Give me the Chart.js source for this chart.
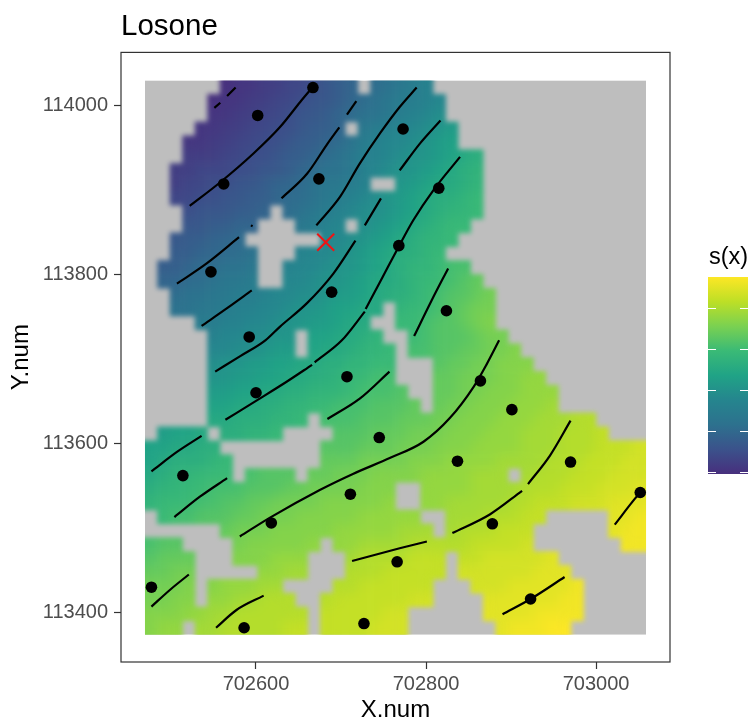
<!DOCTYPE html>
<html>
<head>
<meta charset="utf-8">
<style>
  html, body { margin: 0; padding: 0; background: #fff; }
  canvas { display: block; }
</style>
<script src="https://cdn.jsdelivr.net/npm/chart.js@4/dist/chart.umd.min.js"></script>
</head>
<body>
<canvas id="chart" width="750" height="720"></canvas>
<script>
// s(x) surface: one string per grid row, top to bottom.
// '.' = no prediction (grey), 0-9a-z = level in base 36
var cellRows = [
  "......12233445678.9abcd.................",
  ".....1223344566789abccde................",
  ".....223344566789aabcdef................",
  "....223344556778.bcdeefgh...............",
  "...2233445567789acdeefghi...............",
  "...333445567789abddefgghijk.............",
  "..334445566789aabdefgghijkl.............",
  "..34455667889abbcd..ghijjkl.............",
  "..44556677899abcdefghijkklm.............",
  "...5666778.9abcdeffghijkllm.............",
  "...667788...bcde.fghijklmm..............",
  "..677889......eefghijkllm...............",
  "..778899a...deefghijkklm................",
  ".77899aab..deefgghijkllmnn..............",
  ".8899abbc..eefgghijjklmmnop.............",
  "..9aabbccdeeffghhijkklmnoopq............",
  "..aabbcddeefgghiijj.lmmnopqq............",
  "....ccddeefgghhijj..mmnoopqr............",
  ".....deeffgg.iijjkl..mnooopqq...........",
  ".....eeffghh.ijjkllm.nnooppqqr..........",
  ".....fgghhiijjkkllmm...oppqqrrr.........",
  ".....gghhiijjkklmmnn...ppqqqrrss........",
  ".....hhiijjkklllmnnno..ppqqrrrsss.......",
  ".....iijjkkllmmnnnooop.pqqrrrssst.......",
  ".....jjkkkllm.nnnooopppqqrrrsssttt" + "uu....",
  ".hiij.kkllm....ooopppqqqrrrsssttt" + "uuuv...",
  "iijjkk........ooopppqqqrrrssssttt" + "uuuvvvw",
  "ijkkklm.......pppqqqqrrrssssttttuuuvvvww",
  "jkllmmm.nooo.ppqqqrrrrssssttt.tuuuvvvwww",
  "kllmmnnnoooppqqqqrrr..ssssttttuuuvvvwwwx",
  "lmmmnnooppqqqqrrrrrs..sstttttuuvvvwwwxxx",
  ".mnnoooppqqqrrrrrsssss..tttuuuvv.....xxy",
  "......pqqqrrrrrsssssttt.tuuuvvv......xyy",
  "noo....qrrrrrs.ssttttuuuuuvvvvw.......yy",
  "oppp...rrrsss...tuuuuvvv.vvwwwwwx.......",
  "ppqq.....sstt...uuuvvvvv.wwwwwwxxx......",
  "qqqr.rssstt....uuvvvvvv...wwwxxxxxy.....",
  "qqrr.ssttuuu..uvvvvvvww....xxxxxxyy.....",
  "rrrssttuuuuuu.vvvvvww......xxxxyyyy.....",
  "rss.ttuuuuuvv.vvvvwww.......xyyyzz......"
]
var cellX0 = 702469.4, cellDX = 14.736
var cellY0 = 114029.5, cellDY = 16.394

// sample locations
var siteX = [702667, 702602, 702562, 702674, 702547, 702592, 702689, 702768, 702773, 702815, 702824, 702864, 702901, 702837,
             702970, 702878, 702766, 703052, 702923, 702727, 702586, 702477, 702514, 702618, 702711, 702745, 702707, 702600]
var siteY = [114021, 113988, 113907, 113913, 113803, 113726, 113779, 113834, 113972, 113902, 113757, 113674, 113640, 113579,
             113578, 113505, 113460, 113542, 113416, 113387, 113382, 113430, 113562, 113506, 113540, 113607, 113679, 113660]

var crossX = [702682]
var crossY = [113838]

// contour pieces, [x, y]
var contourLines = [
  [[702551,113997],[702558,114003]],
  [[702566,114011],[702576,114021]],
  [[702522,113881],[702558,113909],[702597,113943],[702628,113974],[702652,114004],[702667,114022]],
  [[702630,113890],[702660,113919],[702683,113953],[702698,113974]],
  [[702707,113989],[702718,114005]],
  [[702671,113858],[702699,113892],[702722,113931],[702746,113967],[702769,113998],[702789,114021]],
  [[702507,113789],[702542,113813],[702580,113844]],
  [[702594,113858],[702596,113857]],
  [[702536,113739],[702566,113760],[702595,113781]],
  [[702552,113685],[702581,113703],[702611,113722],[702628,113738],[702660,113766],[702691,113801],[702717,113840]],
  [[702728,113858],[702747,113890]],
  [[702769,113923],[702793,113955],[702817,113982]],
  [[702564,113628],[702601,113651],[702636,113673],[702666,113693]],
  [[702669,113696],[702701,113722],[702728,113756]],
  [[702729,113759],[702749,113797],[702768,113833],[702785,113864],[702809,113900],[702840,113939]],
  [[702684,113629],[702722,113653],[702757,113685]],
  [[702786,113727],[702807,113770],[702826,113807]],
  [[702581,113490],[702616,113512],[702675,113545],[702714,113564],[702758,113583],[702797,113602],[702828,113630],[702856,113667],[702871,113693],[702886,113722]],
  [[702713,113461],[702769,113476],[702801,113484]],
  [[702831,113494],[702875,113516],[702913,113544]],
  [[702920,113552],[702946,113586],[702970,113627]],
  [[703022,113504],[703046,113535],[703052,113542]],
  [[702890,113398],[702923,113416],[702963,113442]],
  [[702477,113567],[702507,113590],[702536,113609]],
  [[702504,113513],[702534,113537],[702566,113559]],
  [[702477,113407],[702499,113427],[702521,113445]],
  [[702553,113382],[702577,113403],[702609,113420]]
]

var xTickValues = [702600, 702800, 703000]
var yTickValues = [113400, 113600, 113800, 114000]

var colorStops = ['#472f7d', '#3b528b', '#2d718e', '#25858e', '#20a386', '#3aba76', '#7ad151', '#bddf26', '#fde725']
var levelMin = 1.15, levelMax = 34.75
var legendTickLevels = [1.5, 8.5, 15.5, 22.5, 29.5]
var naColor = '#bebebe'

function hexToRgb(h){
  return [parseInt(h.slice(1,3),16), parseInt(h.slice(3,5),16), parseInt(h.slice(5,7),16)]
}

function levelColor(v){
  var t = Math.min(1, Math.max(0, (v - levelMin) / (levelMax - levelMin))) * (colorStops.length - 1)
  var i = Math.min(colorStops.length - 2, Math.floor(t))
  var a = hexToRgb(colorStops[i]), b = hexToRgb(colorStops[i+1]), f = t - i
  return 'rgb(' + Math.round(a[0]+(b[0]-a[0])*f) + ',' + Math.round(a[1]+(b[1]-a[1])*f) + ',' + Math.round(a[2]+(b[2]-a[2])*f) + ')'
}

var cellPoints = []
cellRows.forEach(function(row, r){
  for (var c = 0; c < row.length; c++){
    cellPoints.push({
      x: cellX0 + cellDX * (c + 0.5),
      y: cellY0 - cellDY * (r + 0.5),
      v: row[c] === '.' ? null : parseInt(row[c], 36),
      r: r, c: c
    })
  }
})

// cells are painted off screen at the element positions, the outline gets a small
// blur and the colours inside a wider one so the steps between levels melt away
var rasterLayer = {
  id: 'rasterLayer',
  beforeDatasetDraw: function(chart, args){
    if (args.index !== 0) return
    var sx = chart.scales.x, sy = chart.scales.y
    var w = Math.abs(sx.getPixelForValue(cellX0 + cellDX) - sx.getPixelForValue(cellX0))
    var h = Math.abs(sy.getPixelForValue(cellY0 - cellDY) - sy.getPixelForValue(cellY0))
    var flat = document.createElement('canvas')
    flat.width = chart.width
    flat.height = chart.height
    var o = flat.getContext('2d')
    args.meta.data.forEach(function(el, i){
      var p = cellPoints[i]
      if (p.v === null) return
      // cells on the rim run past the clip so they keep a hard edge
      var x0 = el.x - w/2 - 0.3 - (p.c === 0 ? 10 : 0)
      var x1 = el.x + w/2 + 0.3 + (p.c === 39 ? 10 : 0)
      var y0 = el.y - h/2 - 0.3 - (p.r === 0 ? 10 : 0)
      var y1 = el.y + h/2 + 0.3 + (p.r === 39 ? 10 : 0)
      o.fillStyle = levelColor(p.v)
      o.fillRect(x0, y0, x1 - x0, y1 - y0)
    })
    var soft = document.createElement('canvas')
    soft.width = chart.width
    soft.height = chart.height
    var s = soft.getContext('2d')
    s.filter = 'blur(2.4px)'
    s.drawImage(flat, 0, 0)
    s.globalCompositeOperation = 'source-atop'
    s.filter = 'blur(7px)'
    s.drawImage(flat, 0, 0)
    s.drawImage(flat, 0, 0)

    var left = sx.getPixelForValue(cellX0), top = sy.getPixelForValue(cellY0)
    var ctx = chart.ctx
    ctx.save()
    ctx.beginPath()
    ctx.rect(left, top, w * 40, h * 40)
    ctx.clip()
    ctx.fillStyle = naColor
    ctx.fillRect(left, top, w * 40, h * 40)
    ctx.drawImage(soft, 0, 0)
    ctx.restore()
    return false
  }
}

var panelAndLegend = {
  id: 'panelAndLegend',
  afterDraw: function(chart){
    var ctx = chart.ctx, a = chart.chartArea
    ctx.save()
    ctx.strokeStyle = '#333333'
    ctx.lineWidth = 1.2
    ctx.strokeRect(a.left, a.top, a.right - a.left, a.bottom - a.top)

    // colour bar
    var bx = 708, bw = 40, by = 277, bh = 197
    var g = ctx.createLinearGradient(0, by + bh, 0, by)
    colorStops.forEach(function(col, i){ g.addColorStop(i / (colorStops.length - 1), col) })
    ctx.fillStyle = g
    ctx.fillRect(bx, by, bw, bh)
    ctx.strokeStyle = '#ffffff'
    ctx.lineWidth = 1
    legendTickLevels.forEach(function(v){
      var y = Math.round(by + bh - (v - levelMin) / (levelMax - levelMin) * bh) + 0.5
      ctx.beginPath()
      ctx.moveTo(bx, y); ctx.lineTo(bx + 8, y)
      ctx.moveTo(bx + bw - 8, y); ctx.lineTo(bx + bw, y)
      ctx.stroke()
    })
    ctx.fillStyle = '#000000'
    ctx.font = '23.5px "Liberation Sans"'
    ctx.textAlign = 'left'
    ctx.textBaseline = 'alphabetic'
    ctx.fillText('s(x)', 709, 264)
    ctx.restore()
  }
}

// lower index is drawn on top, the cells stay last through order
var datasets = [
  {label: 'cells', data: cellPoints, pointRadius: 0, showLine: false, order: 3},
  {
    label: 'cross',
    data: crossX.map(function(x, i){ return {x: x, y: crossY[i]} }),
    pointStyle: 'crossRot', pointRadius: 12, pointBorderColor: '#f01414', pointBorderWidth: 2,
    showLine: false, order: 0
  },
  {
    label: 'sites',
    data: siteX.map(function(x, i){ return {x: x, y: siteY[i]} }),
    pointStyle: 'circle', pointRadius: 5.8, pointBackgroundColor: '#000', pointBorderWidth: 0,
    showLine: false, order: 1
  }
]
contourLines.forEach(function(line, i){
  datasets.push({
    label: 'contour' + i,
    data: line.map(function(p){ return {x: p[0], y: p[1]} }),
    showLine: true, pointRadius: 0, borderColor: '#000', borderWidth: 2.2,
    tension: 0.4, cubicInterpolationMode: 'monotone', order: 2
  })
})

new Chart(document.getElementById('chart').getContext('2d'), {
  type: 'scatter',
  data: { datasets: datasets },
  plugins: [rasterLayer, panelAndLegend],
  options: {
    responsive: false,
    animation: false,
    events: [],
    layout: { padding: { left: 0, right: 80, top: 0, bottom: 0 } },
    plugins: {
      legend: { display: false },
      tooltip: { enabled: false },
      title: {
        display: true, text: 'Losone', align: 'start', fullSize: false, color: '#000',
        font: { family: '"Liberation Sans"', size: 29.5, weight: 'normal' },
        padding: { top: 9, bottom: 8 }
      }
    },
    scales: {
      x: {
        type: 'linear', min: 702441.2, max: 703087,
        afterBuildTicks: function(axis){ axis.ticks = xTickValues.map(function(v){ return {value: v} }) },
        afterFit: function(axis){ axis.height = 58 },
        grid: { drawOnChartArea: false, drawTicks: true, tickLength: 7, tickColor: '#333', tickWidth: 1.2 },
        border: { display: false },
        ticks: { color: '#4d4d4d', font: { family: '"Liberation Sans"', size: 20 }, padding: 3, maxRotation: 0,
          callback: function(v){ return String(v) } },
        title: { display: true, text: 'X.num', color: '#000', font: { family: '"Liberation Sans"', size: 24, lineHeight: 1 }, padding: { top: 5, bottom: -2 } }
      },
      y: {
        type: 'linear', min: 113341.5, max: 114062.6,
        afterBuildTicks: function(axis){ axis.ticks = yTickValues.map(function(v){ return {value: v} }) },
        afterFit: function(axis){ axis.width = 121 },
        grid: { drawOnChartArea: false, drawTicks: true, tickLength: 7, tickColor: '#333', tickWidth: 1.2 },
        border: { display: false },
        ticks: { color: '#4d4d4d', font: { family: '"Liberation Sans"', size: 20 }, padding: 6,
          callback: function(v){ return String(v) } },
        title: { display: true, text: 'Y.num', color: '#000', font: { family: '"Liberation Sans"', size: 24 }, padding: { top: 7, bottom: 0 } }
      }
    }
  }
})
</script>
</body>
</html>
